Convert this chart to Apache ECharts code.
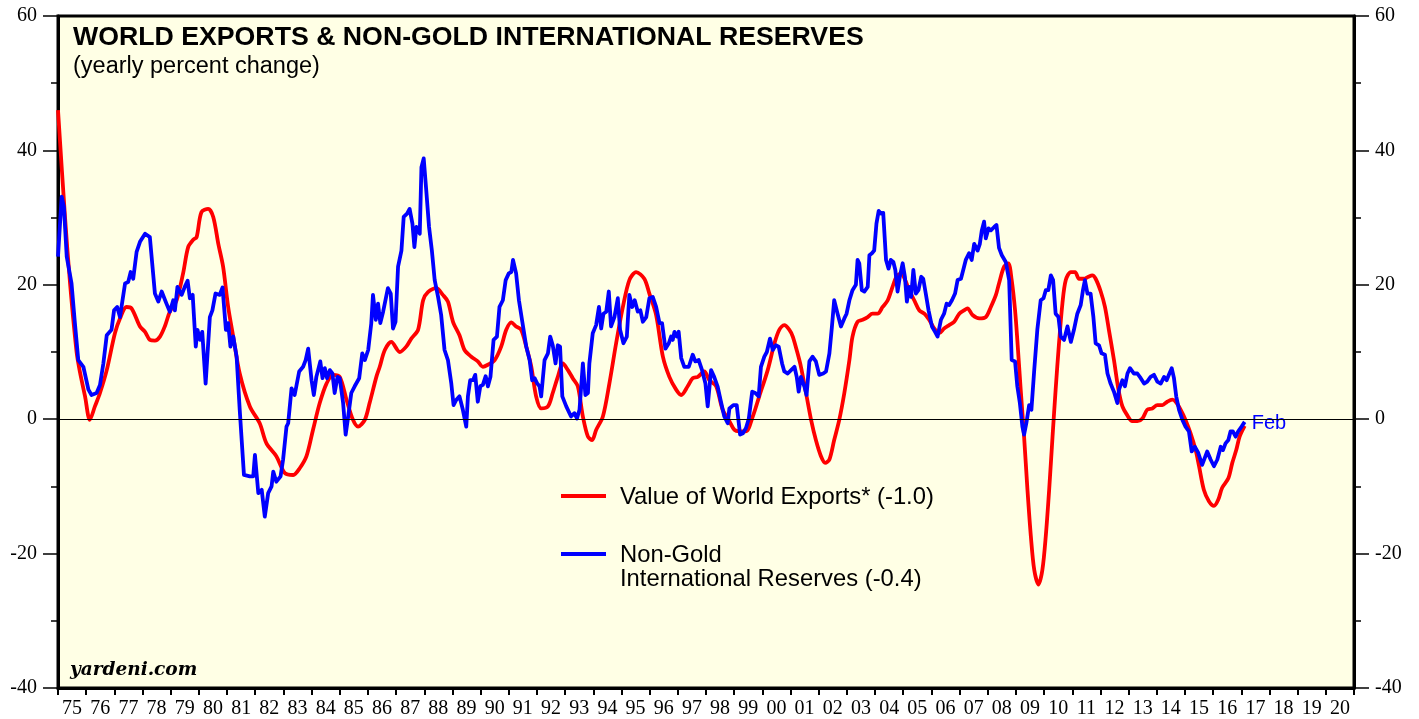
<!DOCTYPE html>
<html>
<head>
<meta charset="utf-8">
<script src="https://cdn.jsdelivr.net/npm/echarts@6/dist/echarts.min.js"></script>
<style>
html,body{margin:0;padding:0;background:#fff;}
#chart{width:1419px;height:719px;}
</style>
</head>
<body>
<div id="chart"></div>
<script>
// ---- tick labels ----
const yearLabels = ['75','76','77','78','79','80','81','82','83','84','85','86','87','88','89','90','91','92','93','94','95','96','97','98','99','00','01','02','03','04','05','06','07','08','09','10','11','12','13','14','15','16','17','18','19','20'];

// ---- Value of World Exports (yearly % change) ----
const exportsYears = [1975.00,1975.25,1975.43,1975.66,1975.78,1975.96,1976.13,1976.31,1976.49,1976.73,1977.02,1977.20,1977.43,1977.61,1977.91,1978.09,1978.26,1978.44,1978.62,1978.79,1978.97,1979.21,1979.44,1979.62,1979.80,1979.92,1980.09,1980.33,1980.51,1980.69,1980.86,1981.04,1981.22,1981.45,1981.81,1982.16,1982.40,1982.75,1983.05,1983.35,1983.58,1983.82,1984.05,1984.29,1984.53,1984.76,1985.00,1985.24,1985.47,1985.65,1985.89,1986.06,1986.30,1986.42,1986.60,1986.83,1987.13,1987.36,1987.54,1987.78,1987.96,1988.13,1988.43,1988.66,1988.84,1989.02,1989.25,1989.43,1989.67,1989.90,1990.08,1990.26,1990.50,1990.73,1990.91,1991.09,1991.26,1991.44,1991.62,1991.80,1991.97,1992.15,1992.39,1992.56,1992.74,1992.92,1993.10,1993.27,1993.45,1993.63,1993.81,1993.96,1994.10,1994.34,1994.57,1994.81,1995.05,1995.28,1995.52,1995.81,1995.99,1996.23,1996.47,1996.70,1996.94,1997.12,1997.35,1997.53,1997.71,1997.94,1998.12,1998.36,1998.59,1998.83,1999.01,1999.18,1999.42,1999.66,1999.89,2000.19,2000.43,2000.60,2000.78,2000.96,2001.08,2001.25,2001.37,2001.55,2001.73,2001.90,2002.08,2002.23,2002.38,2002.55,2002.73,2002.91,2003.09,2003.20,2003.38,2003.56,2003.74,2003.91,2004.09,2004.27,2004.45,2004.62,2004.76,2004.92,2005.07,2005.21,2005.39,2005.57,2005.75,2005.92,2006.10,2006.28,2006.45,2006.63,2006.81,2006.99,2007.16,2007.28,2007.46,2007.70,2007.93,2008.11,2008.29,2008.40,2008.58,2008.73,2008.85,2008.97,2009.05,2009.17,2009.29,2009.41,2009.53,2009.65,2009.80,2009.94,2010.06,2010.18,2010.30,2010.41,2010.53,2010.65,2010.77,2010.95,2011.10,2011.24,2011.42,2011.57,2011.71,2011.83,2012.01,2012.16,2012.30,2012.48,2012.64,2012.78,2012.95,2013.13,2013.31,2013.49,2013.66,2013.84,2014.02,2014.20,2014.37,2014.55,2014.67,2014.85,2015.02,2015.20,2015.38,2015.50,2015.67,2015.85,2016.03,2016.18,2016.32,2016.54,2016.68,2016.82,2016.94,2017.12];
const exportsValues = [46.0,30.0,20.1,10.0,7.0,3.4,-0.1,1.9,3.9,7.3,12.8,15.0,16.7,16.5,13.8,13.0,11.8,11.7,12.3,13.8,16.0,17.7,21.7,25.6,26.7,27.1,30.8,31.3,30.1,26.1,22.7,16.7,12.3,6.8,1.9,-0.6,-3.6,-5.5,-8.0,-8.3,-7.3,-5.5,-1.6,2.4,5.3,6.6,6.3,2.9,-0.1,-1.1,-0.1,2.4,6.3,7.8,10.3,11.5,10.0,10.8,12.0,13.3,17.7,18.9,19.5,18.5,17.5,14.5,12.5,10.3,9.3,8.6,7.8,8.1,8.8,10.8,13.3,14.4,13.8,13.3,10.8,7.8,3.4,1.6,1.9,3.9,6.3,8.3,7.3,6.1,4.9,0.4,-2.6,-3.1,-1.6,0.4,5.3,11.3,16.7,20.7,21.9,20.9,18.7,15.5,9.3,6.3,4.4,3.6,4.9,6.1,6.3,7.1,5.8,4.9,1.4,-0.3,-1.6,-1.8,-1.8,0.4,3.4,7.3,11.3,13.3,14.0,13.3,12.3,9.8,7.8,3.9,-0.1,-3.1,-5.5,-6.5,-6.0,-3.1,-0.1,3.9,8.8,12.3,14.5,14.8,15.2,15.7,15.7,16.7,17.7,19.7,21.2,21.7,20.7,19.2,17.7,16.2,15.7,14.8,13.5,12.8,13.5,14.0,14.5,15.7,16.2,16.5,15.5,15.0,15.2,16.7,18.5,20.2,22.7,23.2,20.7,16.2,11.8,4.4,-2.6,-10.5,-17.4,-22.4,-24.6,-22.4,-17.4,-10.5,-2.6,4.4,11.3,17.2,20.7,21.9,21.9,20.9,20.9,21.2,21.4,20.9,19.0,16.7,13.3,8.8,4.4,1.9,0.6,-0.3,-0.3,0.1,1.4,1.6,2.1,2.1,2.6,2.9,2.6,1.4,-0.1,-2.1,-4.6,-7.0,-10.5,-12.2,-12.9,-12.0,-10.2,-8.8,-6.5,-4.6,-2.6,-1.0];

// ---- Non-Gold International Reserves (yearly % change) ----
const reservesYears = [1975.00,1975.13,1975.21,1975.31,1975.48,1975.60,1975.72,1975.90,1976.08,1976.19,1976.37,1976.49,1976.61,1976.73,1976.90,1976.99,1977.10,1977.20,1977.38,1977.49,1977.58,1977.67,1977.79,1977.91,1978.09,1978.26,1978.44,1978.56,1978.68,1978.85,1978.97,1979.09,1979.15,1979.24,1979.39,1979.50,1979.60,1979.68,1979.78,1979.89,1979.95,1980.04,1980.12,1980.24,1980.39,1980.48,1980.59,1980.74,1980.84,1980.96,1981.04,1981.12,1981.22,1981.34,1981.45,1981.60,1981.81,1981.93,1981.99,1982.11,1982.23,1982.34,1982.46,1982.58,1982.64,1982.75,1982.90,1982.99,1983.11,1983.17,1983.29,1983.40,1983.56,1983.70,1983.79,1983.88,1984.00,1984.08,1984.17,1984.31,1984.39,1984.47,1984.55,1984.65,1984.74,1984.82,1984.92,1985.00,1985.12,1985.21,1985.30,1985.41,1985.53,1985.69,1985.80,1985.89,1986.01,1986.12,1986.18,1986.28,1986.36,1986.44,1986.54,1986.71,1986.81,1986.89,1986.98,1987.07,1987.19,1987.27,1987.39,1987.48,1987.58,1987.65,1987.72,1987.84,1987.90,1987.98,1988.07,1988.17,1988.27,1988.37,1988.49,1988.60,1988.72,1988.84,1988.96,1989.04,1989.14,1989.25,1989.37,1989.49,1989.55,1989.63,1989.73,1989.81,1989.90,1989.99,1990.08,1990.18,1990.26,1990.35,1990.46,1990.58,1990.67,1990.79,1990.89,1991.00,1991.09,1991.15,1991.26,1991.36,1991.48,1991.62,1991.74,1991.83,1991.92,1992.01,1992.09,1992.15,1992.27,1992.39,1992.47,1992.56,1992.66,1992.74,1992.82,1992.90,1993.04,1993.21,1993.33,1993.42,1993.51,1993.63,1993.72,1993.81,1993.86,1993.98,1994.10,1994.20,1994.28,1994.36,1994.46,1994.55,1994.63,1994.75,1994.87,1994.95,1995.07,1995.19,1995.28,1995.38,1995.47,1995.58,1995.67,1995.76,1995.88,1995.99,1996.11,1996.23,1996.35,1996.44,1996.56,1996.68,1996.76,1996.82,1996.88,1996.96,1997.03,1997.12,1997.23,1997.39,1997.53,1997.62,1997.74,1997.86,1997.98,1998.06,1998.18,1998.29,1998.41,1998.53,1998.65,1998.77,1998.83,1998.97,1999.09,1999.21,1999.31,1999.42,1999.52,1999.64,1999.75,1999.87,1999.95,2000.07,2000.16,2000.27,2000.37,2000.48,2000.58,2000.70,2000.78,2000.90,2001.02,2001.14,2001.22,2001.29,2001.37,2001.49,2001.57,2001.67,2001.78,2001.90,2002.02,2002.16,2002.26,2002.38,2002.47,2002.55,2002.67,2002.79,2002.91,2002.99,2003.09,2003.20,2003.32,2003.38,2003.44,2003.53,2003.62,2003.74,2003.80,2003.89,2003.97,2004.05,2004.13,2004.21,2004.29,2004.39,2004.48,2004.56,2004.65,2004.72,2004.80,2004.88,2004.98,2005.06,2005.13,2005.21,2005.28,2005.36,2005.45,2005.54,2005.64,2005.71,2005.80,2005.90,2006.02,2006.13,2006.22,2006.34,2006.45,2006.54,2006.63,2006.73,2006.84,2006.93,2007.05,2007.13,2007.22,2007.34,2007.43,2007.52,2007.64,2007.72,2007.79,2007.87,2007.93,2008.03,2008.11,2008.23,2008.31,2008.40,2008.50,2008.64,2008.76,2008.85,2008.97,2009.05,2009.14,2009.23,2009.29,2009.37,2009.47,2009.55,2009.65,2009.76,2009.88,2009.98,2010.06,2010.15,2010.24,2010.32,2010.41,2010.51,2010.59,2010.71,2010.83,2010.95,2011.06,2011.18,2011.30,2011.38,2011.45,2011.54,2011.65,2011.75,2011.83,2011.95,2012.04,2012.16,2012.25,2012.36,2012.48,2012.60,2012.66,2012.78,2012.87,2012.96,2013.05,2013.19,2013.31,2013.43,2013.55,2013.66,2013.78,2013.90,2014.02,2014.14,2014.26,2014.35,2014.43,2014.53,2014.61,2014.69,2014.79,2014.91,2015.02,2015.14,2015.24,2015.35,2015.47,2015.61,2015.79,2015.91,2016.03,2016.15,2016.27,2016.35,2016.44,2016.54,2016.62,2016.70,2016.80,2016.89,2017.01,2017.12];
const reservesValues = [24.2,33.1,31.6,24.2,20.2,14.3,8.8,7.8,4.4,3.6,3.9,5.1,8.3,12.5,13.3,16.2,16.7,15.2,20.2,20.4,21.9,20.9,24.9,26.4,27.6,27.1,18.7,17.5,19.0,17.2,16.0,17.7,16.2,19.7,18.5,19.7,20.6,18.0,18.5,10.8,13.3,11.8,13.0,5.3,15.2,16.2,18.7,18.5,19.6,13.3,14.3,10.8,12.3,9.3,1.4,-8.3,-8.5,-8.5,-5.3,-11.0,-10.5,-14.5,-11.0,-10.0,-7.8,-9.3,-8.5,-6.0,-1.1,-0.6,4.6,3.6,7.1,7.8,8.8,10.5,5.8,3.6,6.3,8.6,6.1,7.6,6.1,7.3,6.8,3.9,6.3,6.1,2.4,-2.3,0.4,3.9,4.9,6.1,9.8,8.8,10.3,14.3,18.5,14.8,17.2,14.3,16.0,19.5,18.7,13.5,14.5,22.7,25.1,30.1,30.6,31.3,29.1,25.6,28.6,27.6,37.5,38.8,34.1,28.6,25.1,20.7,18.2,15.5,10.3,8.8,5.3,2.1,2.9,3.4,1.4,-1.1,3.4,5.8,5.8,6.6,2.6,4.9,5.1,6.4,4.9,6.3,11.8,12.3,16.7,17.7,20.7,21.7,21.9,23.7,21.7,17.7,14.5,10.8,8.8,5.8,6.1,5.3,4.9,3.4,8.8,9.8,12.3,11.0,8.3,11.0,10.8,3.4,1.9,0.4,0.9,0.1,1.4,8.3,3.6,3.9,8.3,12.8,14.0,16.7,13.5,15.7,16.0,19.0,13.8,15.2,18.0,13.3,11.3,12.3,18.5,16.7,17.7,16.0,16.2,14.5,15.2,18.0,18.2,16.7,14.3,14.3,10.5,11.3,12.3,11.8,13.0,12.3,13.0,9.1,7.8,7.8,9.6,8.6,8.8,7.3,5.3,1.9,7.3,6.3,4.9,2.6,0.4,-0.6,1.6,2.1,2.1,-2.3,-2.1,-1.3,0.1,4.1,3.9,3.4,7.8,9.3,10.0,12.0,10.3,11.0,10.8,8.3,7.1,6.8,7.3,7.8,6.3,4.1,6.3,4.9,3.6,8.6,9.3,8.6,6.6,6.8,7.1,9.8,13.8,17.7,15.7,13.8,15.0,15.7,17.7,19.2,20.0,23.7,23.2,19.2,19.0,19.7,24.4,24.7,25.1,29.1,31.0,30.6,30.7,23.7,22.4,23.7,23.4,22.2,19.0,21.2,23.2,21.2,17.5,19.7,18.2,22.2,18.7,19.2,21.2,20.9,18.7,16.2,13.8,13.0,12.3,14.8,15.7,17.2,17.0,17.7,18.7,20.7,20.9,22.2,23.7,24.7,23.7,26.1,25.1,26.1,28.1,29.4,26.9,28.4,28.1,28.6,28.9,25.5,24.4,23.4,20.7,8.8,8.6,4.9,2.4,-1.1,-2.3,-0.6,2.1,1.4,7.3,13.3,17.7,18.0,19.2,19.2,21.4,20.7,15.7,15.2,12.3,11.8,13.8,11.5,13.3,15.7,17.0,19.2,20.7,18.7,18.7,15.2,11.3,11.0,9.8,9.6,6.8,5.3,4.1,2.4,4.4,5.8,4.9,6.8,7.6,6.8,6.8,6.1,5.3,5.6,6.3,6.6,5.6,5.3,6.3,5.8,6.6,7.6,6.1,3.4,1.4,-0.1,-1.1,-1.8,-4.8,-4.1,-5.0,-6.8,-4.8,-6.0,-7.0,-6.0,-4.1,-4.6,-3.6,-3.1,-1.8,-1.8,-2.6,-1.8,-1.1,-0.4];

const SANS = '"Liberation Sans", Arial, sans-serif';
const SERIF = '"Liberation Serif", "Times New Roman", serif';

const exportsData = exportsYears.map((x, i) => [x, exportsValues[i]]);
const reservesData = reservesYears.map((x, i) => [x, reservesValues[i]]);

const yAxisBase = (pos) => ({
  type: 'value', position: pos, min: -40, max: 60, interval: 20,
  axisLine: { show: true, onZero: false, lineStyle: { color: '#000', width: 3 } },
  axisTick: { show: true, inside: false, length: 15, lineStyle: { color: '#000', width: 1.5 } },
  minorTick: { show: true, splitNumber: 2, length: 7, lineStyle: { color: '#000', width: 1.5 } },
  axisLabel: { color: '#000', fontFamily: SERIF, fontSize: 20, margin: 21 },
  splitLine: { show: false }, minorSplitLine: { show: false }
});

const chart = echarts.init(document.getElementById('chart'), null, { renderer: 'canvas' });
chart.setOption({
  animation: false,
  backgroundColor: '#ffffff',
  grid: { left: 58, right: 65, top: 16, bottom: 30, show: true, backgroundColor: '#FFFFE5', borderColor: '#000', borderWidth: 3 },
  xAxis: [
    {
      type: 'category', data: yearLabels, boundaryGap: true, position: 'bottom',
      axisLine: { show: true, onZero: false, lineStyle: { color: '#000', width: 3 } },
      axisTick: { show: true, inside: false, length: 7, interval: 0, alignWithLabel: false, lineStyle: { color: '#000', width: 2 } },
      axisLabel: { interval: 0, color: '#000', fontFamily: SERIF, fontSize: 20, margin: 11 },
      splitLine: { show: false }
    },
    { type: 'value', min: 1975, max: 2021, show: false, axisLine: { onZero: false } }
  ],
  yAxis: [yAxisBase('left'), yAxisBase('right')],
  series: [
    {
      type: 'line', xAxisIndex: 1, yAxisIndex: 0, data: [], silent: true, z: 1,
      markLine: { silent: true, symbol: ['none', 'none'], label: { show: false },
        lineStyle: { color: '#000', width: 1.2, type: 'solid' }, data: [{ yAxis: 0 }] }
    },
    {
      name: 'Value of World Exports', type: 'line', xAxisIndex: 1, yAxisIndex: 0, z: 3,
      data: exportsData, showSymbol: false, smooth: 0.3,
      lineStyle: { color: '#FF0000', width: 3.8 }, itemStyle: { color: '#FF0000' }
    },
    {
      name: 'Non-Gold International Reserves', type: 'line', xAxisIndex: 1, yAxisIndex: 0, z: 4,
      data: reservesData, showSymbol: false,
      lineStyle: { color: '#0000FF', width: 3.8, join: 'round' }, itemStyle: { color: '#0000FF' },
      endLabel: { show: true, formatter: 'Feb', color: '#0000FF', fontFamily: SANS, fontSize: 20, distance: 7, offset: [0, 2] }
    }
  ],
  graphic: [
    { type: 'text', left: 73, top: 24, z: 10, style: { text: 'WORLD EXPORTS & NON-GOLD INTERNATIONAL RESERVES', font: 'bold 26.7px ' + SANS, fill: '#000' } },
    { type: 'text', left: 73, top: 55, z: 10, style: { text: '(yearly percent change)', font: '23.5px ' + SANS, fill: '#000' } },
    { type: 'text', left: 70, top: 661, z: 10, style: { text: 'yardeni.com', font: 'italic bold 18.5px "DejaVu Serif", serif', fill: '#000' } },
    { type: 'line', z: 10, shape: { x1: 561, y1: 496, x2: 606, y2: 496 }, style: { stroke: '#FF0000', lineWidth: 4 } },
    { type: 'text', left: 620, top: 485, z: 10, style: { text: 'Value of World Exports* (-1.0)', font: '23.8px ' + SANS, fill: '#000' } },
    { type: 'line', z: 10, shape: { x1: 561, y1: 554, x2: 606, y2: 554 }, style: { stroke: '#0000FF', lineWidth: 4 } },
    { type: 'text', left: 620, top: 543, z: 10, style: { text: 'Non-Gold\nInternational Reserves (-0.4)', font: '23.8px ' + SANS, lineHeight: 24, fill: '#000' } }
  ]
});
</script>
</body>
</html>
